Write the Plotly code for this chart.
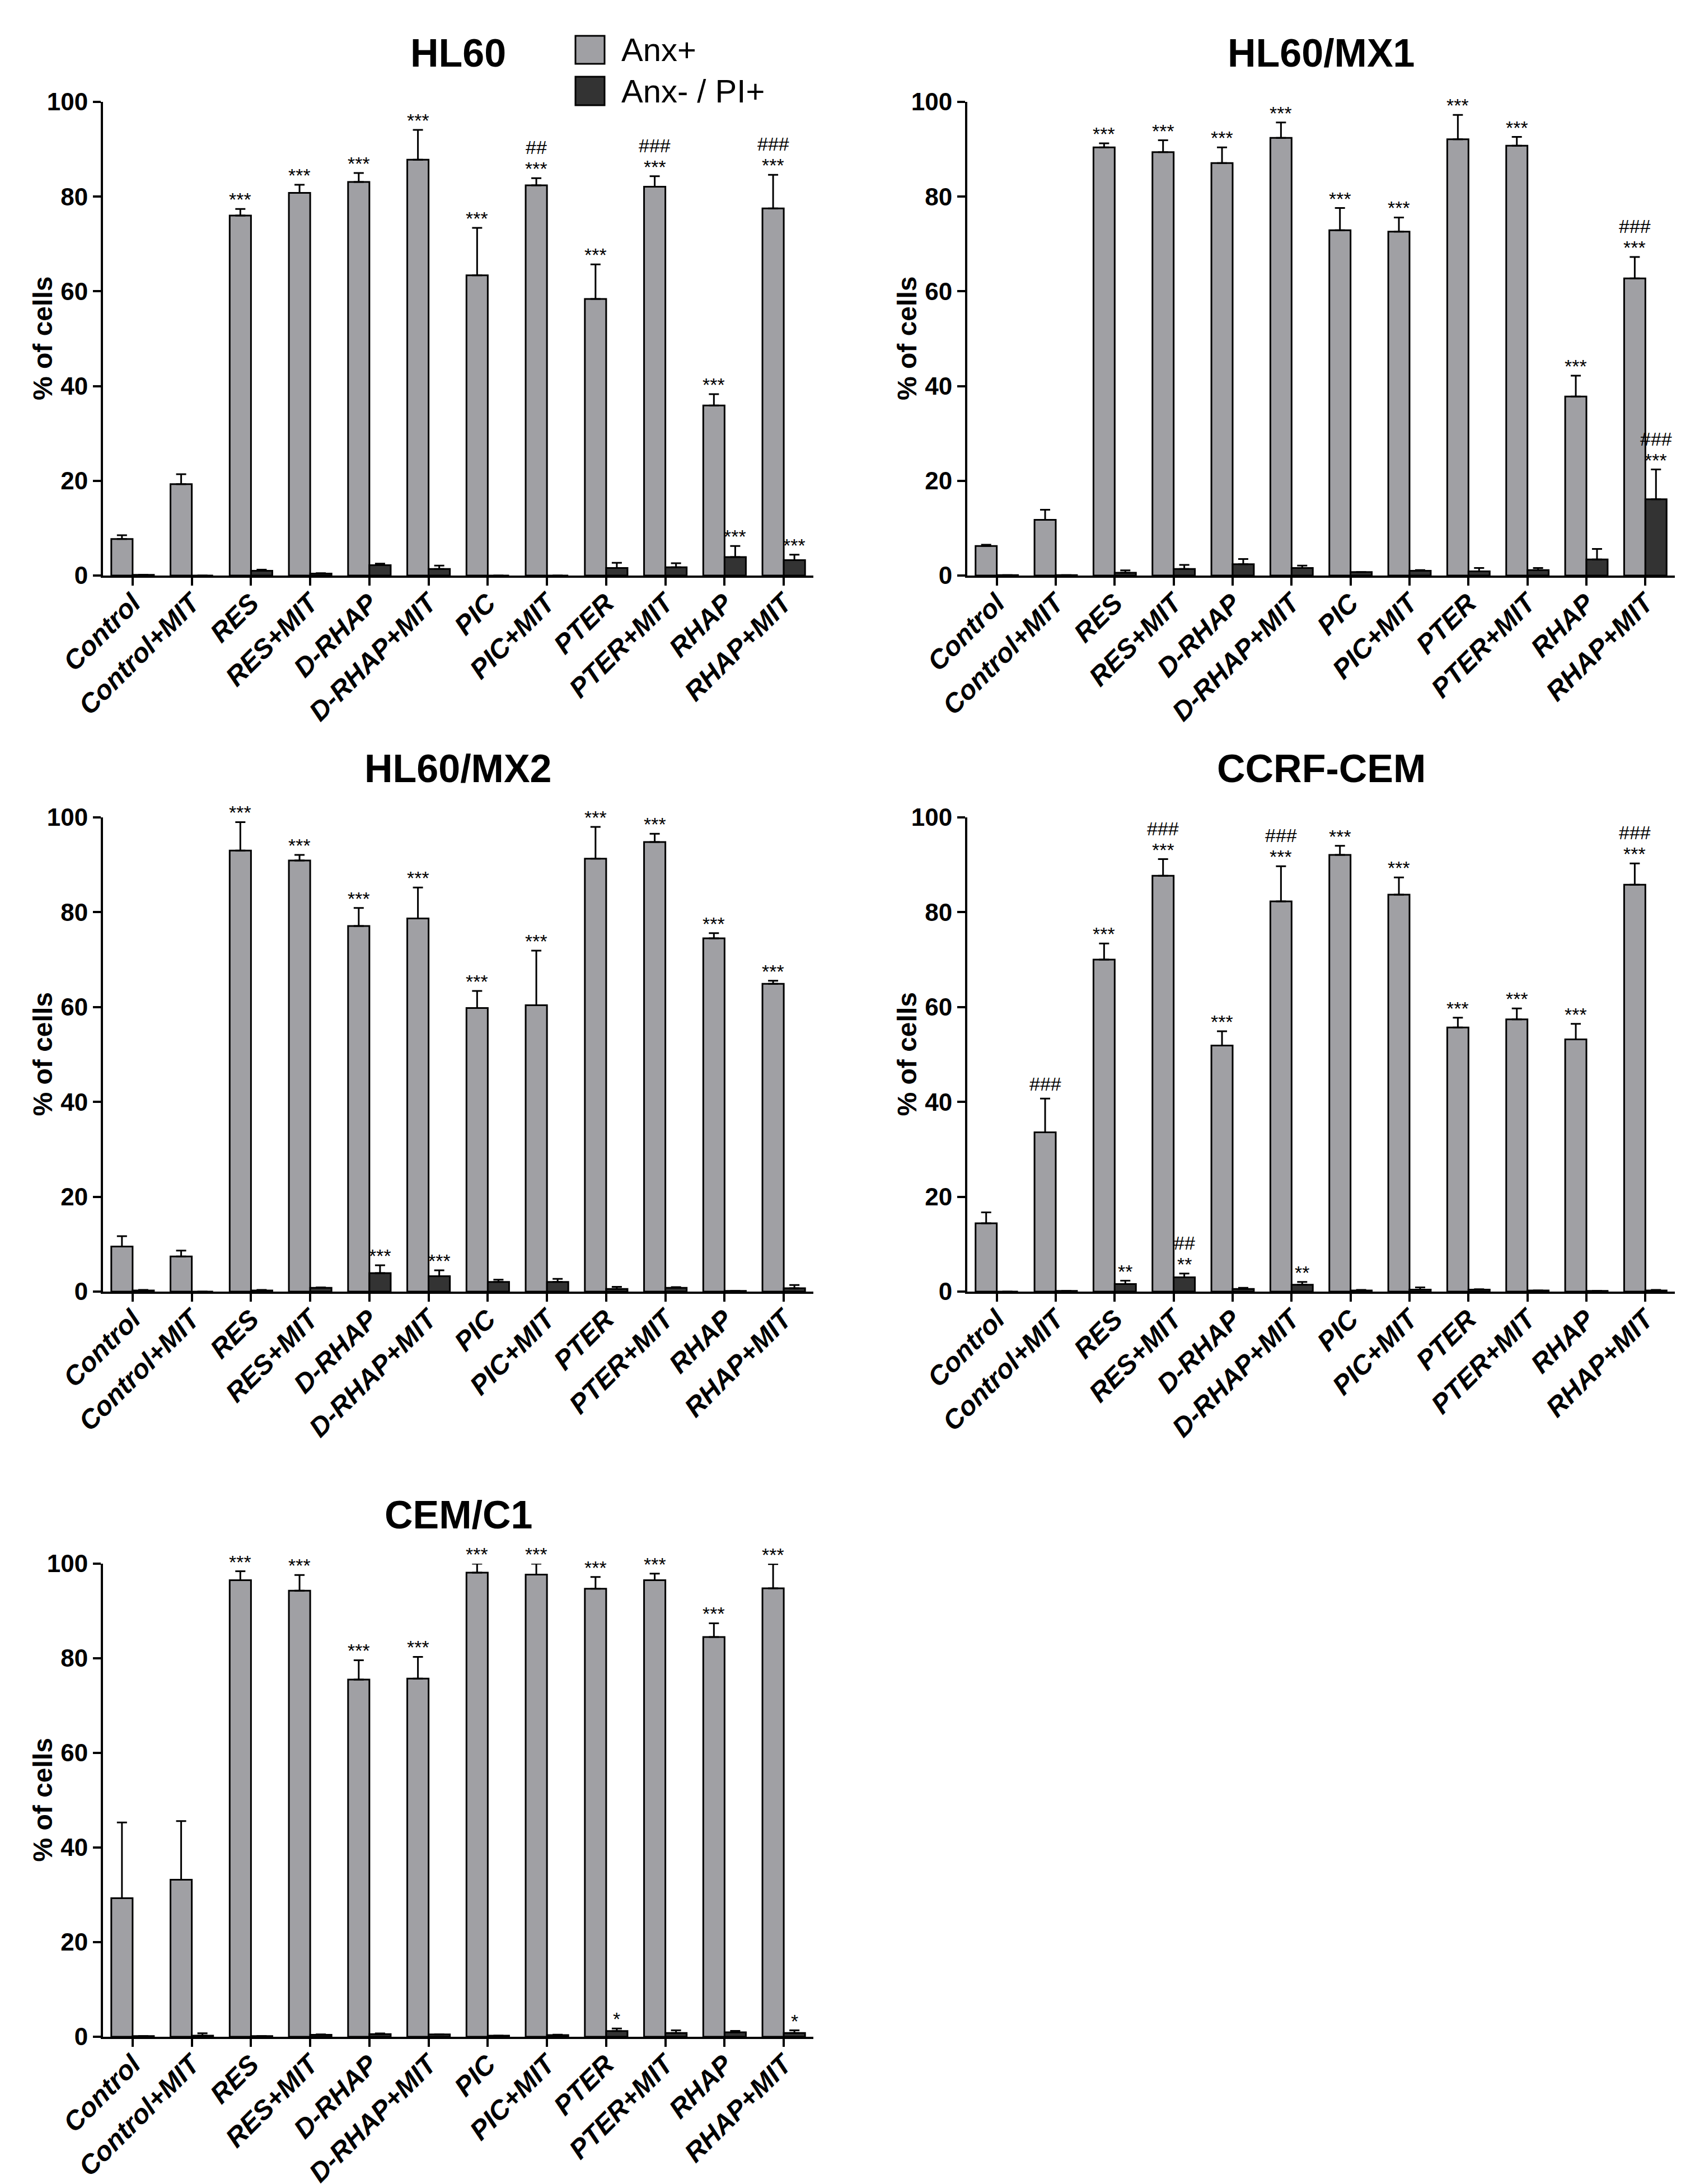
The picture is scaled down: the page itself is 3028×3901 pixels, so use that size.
import plotly.graph_objects as go

W, H = 3028, 3901

categories = ["Control", "Control+MIT", "RES", "RES+MIT", "D-RHAP", "D-RHAP+MIT",
              "PIC", "PIC+MIT", "PTER", "PTER+MIT", "RHAP", "RHAP+MIT"]
series_names = ["Anx+", "Anx- / PI+"]
y_ticks = [0, 20, 40, 60, 80, 100]

# HL60
hl60_anx = [7.7, 19.3, 76.0, 80.8, 83.1, 87.8, 63.4, 82.4, 58.4, 82.1, 35.9, 77.5]
hl60_anx_err = [0.8, 2.1, 1.4, 1.7, 1.9, 6.3, 10.0, 1.5, 7.3, 2.2, 2.4, 7.1]
hl60_pi = [0.15, 0.0, 1.0, 0.4, 2.2, 1.4, 0.0, 0.0, 1.6, 1.75, 3.9, 3.25]
hl60_pi_err = [0.0, 0.0, 0.25, 0.1, 0.3, 0.7, 0.0, 0.0, 1.1, 0.85, 2.35, 1.15]
hl60_anx_stars = ["", "", "***", "***", "***", "***", "***", "***", "***", "***", "***", "***"]
hl60_anx_hash = ["", "", "", "", "", "", "", "##", "", "###", "", "###"]
hl60_pi_stars = ["", "", "", "", "", "", "", "", "", "", "***", "***"]
hl60_pi_hash = [""] * 12

# HL60/MX1
mx1_anx = [6.25, 11.75, 90.4, 89.4, 87.1, 92.4, 72.9, 72.6, 92.1, 90.75, 37.8, 62.75]
mx1_anx_err = [0.25, 2.15, 0.85, 2.5, 3.3, 3.25, 4.7, 3.0, 5.15, 1.85, 4.4, 4.5]
mx1_pi = [0.1, 0.1, 0.6, 1.4, 2.4, 1.6, 0.75, 1.0, 0.9, 1.15, 3.4, 16.1]
mx1_pi_err = [0.0, 0.0, 0.5, 0.85, 1.1, 0.5, 0.0, 0.15, 0.7, 0.45, 2.2, 6.3]
mx1_anx_stars = ["", "", "***", "***", "***", "***", "***", "***", "***", "***", "***", "***"]
mx1_anx_hash = ["", "", "", "", "", "", "", "", "", "", "", "###"]
mx1_pi_stars = ["", "", "", "", "", "", "", "", "", "", "", "***"]
mx1_pi_hash = ["", "", "", "", "", "", "", "", "", "", "", "###"]

# HL60/MX2
mx2_anx = [9.5, 7.4, 93.0, 90.9, 77.1, 78.7, 59.8, 60.4, 91.3, 94.8, 74.5, 64.9]
mx2_anx_err = [2.2, 1.25, 6.0, 1.2, 3.8, 6.5, 3.6, 11.5, 6.7, 1.75, 1.1, 0.65]
mx2_pi = [0.25, 0.0, 0.25, 0.8, 3.9, 3.25, 2.05, 2.05, 0.55, 0.8, 0.15, 0.7]
mx2_pi_err = [0.1, 0.0, 0.1, 0.1, 1.65, 1.25, 0.45, 0.65, 0.45, 0.15, 0.0, 0.7]
mx2_anx_stars = ["", "", "***", "***", "***", "***", "***", "***", "***", "***", "***", "***"]
mx2_anx_hash = [""] * 12
mx2_pi_stars = ["", "", "", "", "***", "***", "", "", "", "", "", ""]
mx2_pi_hash = [""] * 12

# CCRF-CEM
ccrf_anx = [14.4, 33.6, 70.0, 87.7, 51.9, 82.3, 92.1, 83.7, 55.7, 57.4, 53.2, 85.8]
ccrf_anx_err = [2.3, 7.1, 3.4, 3.5, 3.0, 7.4, 1.9, 3.65, 2.05, 2.3, 3.25, 4.5]
ccrf_pi = [0.0, 0.15, 1.6, 3.0, 0.55, 1.45, 0.25, 0.4, 0.4, 0.25, 0.15, 0.25]
ccrf_pi_err = [0.0, 0.0, 0.7, 0.8, 0.25, 0.6, 0.1, 0.5, 0.1, 0.0, 0.0, 0.1]
ccrf_anx_stars = ["", "", "***", "***", "***", "***", "***", "***", "***", "***", "***", "***"]
ccrf_anx_hash = ["", "###", "", "###", "", "###", "", "", "", "", "", "###"]
ccrf_pi_stars = ["", "", "**", "**", "", "**", "", "", "", "", "", ""]
ccrf_pi_hash = ["", "", "", "##", "", "", "", "", "", "", "", ""]

# CEM/C1
c1_anx = [29.3, 33.2, 96.5, 94.3, 75.5, 75.7, 98.1, 97.7, 94.7, 96.5, 84.5, 94.8]
c1_anx_err = [16.0, 12.4, 1.9, 3.3, 4.1, 4.6, 1.9, 2.3, 2.5, 1.4, 2.9, 5.1]
c1_pi = [0.15, 0.25, 0.15, 0.4, 0.55, 0.5, 0.25, 0.35, 1.2, 0.8, 0.95, 0.8]
c1_pi_err = [0.0, 0.5, 0.0, 0.1, 0.15, 0.0, 0.0, 0.1, 0.55, 0.55, 0.3, 0.55]
c1_anx_stars = ["", "", "***", "***", "***", "***", "***", "***", "***", "***", "***", "***"]
c1_anx_hash = [""] * 12
c1_pi_stars = ["", "", "", "", "", "", "", "", "*", "", "", "*"]
c1_pi_hash = [""] * 12

panels = [
    ("HL60", hl60_anx, hl60_anx_err, hl60_pi, hl60_pi_err,
     hl60_anx_stars, hl60_anx_hash, hl60_pi_stars, hl60_pi_hash),
    ("HL60/MX1", mx1_anx, mx1_anx_err, mx1_pi, mx1_pi_err,
     mx1_anx_stars, mx1_anx_hash, mx1_pi_stars, mx1_pi_hash),
    ("HL60/MX2", mx2_anx, mx2_anx_err, mx2_pi, mx2_pi_err,
     mx2_anx_stars, mx2_anx_hash, mx2_pi_stars, mx2_pi_hash),
    ("CCRF-CEM", ccrf_anx, ccrf_anx_err, ccrf_pi, ccrf_pi_err,
     ccrf_anx_stars, ccrf_anx_hash, ccrf_pi_stars, ccrf_pi_hash),
    ("CEM/C1", c1_anx, c1_anx_err, c1_pi, c1_pi_err,
     c1_anx_stars, c1_anx_hash, c1_pi_stars, c1_pi_hash),
]

GREY = "#A0A0A4"
DARK = "#333333"
FONT = "Liberation Sans, Arial, sans-serif"

# pixel boxes of the plot areas (left, right, top, bottom)
col_px = [(176, 1445), (1720, 2984)]
row_px = [(174, 1020), (1452, 2299), (2785, 3630)]

idx = list(range(len(categories)))
fig = go.Figure()
annotations = []
shapes = []

for k, (name, anx, anx_err, pi, pi_err, a_st, a_h, p_st, p_h) in enumerate(panels):
    n = k + 1
    xa, ya = ("x", "y") if n == 1 else (f"x{n}", f"y{n}")
    c0, c1 = col_px[k % 2]
    r0, r1 = row_px[k // 2]
    xdom = [c0 / W, c1 / W]
    ydom = [1 - r1 / H, 1 - r0 / H]

    for vals, errs, color, grp, sname in [(anx, anx_err, GREY, "a", series_names[0]),
                                          (pi, pi_err, DARK, "b", series_names[1])]:
        fig.add_trace(go.Bar(
            x=idx, y=vals, name=sname, offsetgroup=grp,
            marker=dict(color=color, line=dict(color="black", width=3)),
            error_y=dict(type="data", symmetric=False, array=errs,
                         arrayminus=[0] * len(errs), color="black",
                         thickness=3, width=9),
            xaxis=xa, yaxis=ya, showlegend=False,
        ))

    fig.layout[f"xaxis{'' if n == 1 else n}"] = dict(
        domain=xdom, anchor=ya, range=[-0.5, 11.5], automargin=False,
        tickvals=idx, ticktext=categories, tickangle=-45, ticklabelstandoff=-16,
        tickfont=dict(family=FONT, size=48, color="black", weight="bold", style="italic"),
        showline=True, linewidth=4, linecolor="black",
        ticks="outside", ticklen=14, tickwidth=4, tickcolor="black",
        showgrid=False, zeroline=False, fixedrange=True,
    )
    fig.layout[f"yaxis{'' if n == 1 else n}"] = dict(
        domain=ydom, anchor=xa, range=[0, 100], tickvals=y_ticks, automargin=False,
        tickfont=dict(family=FONT, size=44, color="black", weight="bold"),
        showline=True, linewidth=4, linecolor="black",
        ticks="outside", ticklen=14, tickwidth=4, tickcolor="black",
        showgrid=False, zeroline=False, fixedrange=True,
    )

    # panel title
    annotations.append(dict(
        text=f"<b>{name}</b>", xref="paper", yref="paper",
        x=(xdom[0] + xdom[1]) / 2, y=ydom[1], yshift=46,
        xanchor="center", yanchor="bottom", showarrow=False,
        font=dict(family=FONT, size=70, color="black"),
    ))
    # y-axis title
    annotations.append(dict(
        text="<b>% of cells</b>", xref="paper", yref="paper",
        x=xdom[0] - 108 / W, y=(ydom[0] + ydom[1]) / 2, textangle=-90,
        xanchor="center", yanchor="middle", showarrow=False,
        font=dict(family=FONT, size=48, color="black"),
    ))

    # significance marks
    for vals, errs, stars, hashes, off in [(anx, anx_err, a_st, a_h, -0.18),
                                           (pi, pi_err, p_st, p_h, 0.18)]:
        for i in idx:
            top = vals[i] + errs[i]
            if stars[i]:
                annotations.append(dict(
                    text=stars[i], xref=xa, yref=ya, x=i + off, y=top,
                    yshift=-4, xanchor="center", yanchor="bottom", showarrow=False,
                    font=dict(family=FONT, size=34, color="black"),
                ))
            if hashes[i]:
                annotations.append(dict(
                    text=hashes[i], xref=xa, yref=ya, x=i + off, y=top,
                    yshift=34 if stars[i] else 5, xanchor="center", yanchor="bottom",
                    showarrow=False, font=dict(family=FONT, size=34, color="black"),
                ))

# legend drawn by hand so the swatches match the large boxes
legend_rows = [(56, 106, GREY, series_names[0]), (129, 180, DARK, series_names[1])]
for top, bot, color, label in legend_rows:
    shapes.append(dict(type="rect", xref="paper", yref="paper",
                       x0=1020 / W, x1=1072 / W, y0=1 - bot / H, y1=1 - top / H,
                       fillcolor=color, line=dict(color="black", width=3)))
    annotations.append(dict(
        text=label, xref="paper", yref="paper", x=1100 / W, y=1 - (top + bot) / 2 / H,
        xanchor="left", yanchor="middle", showarrow=False,
        font=dict(family=FONT, size=58, color="black"),
    ))

fig.update_layout(
    width=W, height=H, autosize=False,
    margin=dict(l=0, r=0, t=0, b=0),
    paper_bgcolor="white", plot_bgcolor="white",
    barmode="group", bargap=0.28, bargroupgap=0,
    annotations=annotations, shapes=shapes,
    font=dict(family=FONT, color="black"),
)

fig.write_html("out.html")
